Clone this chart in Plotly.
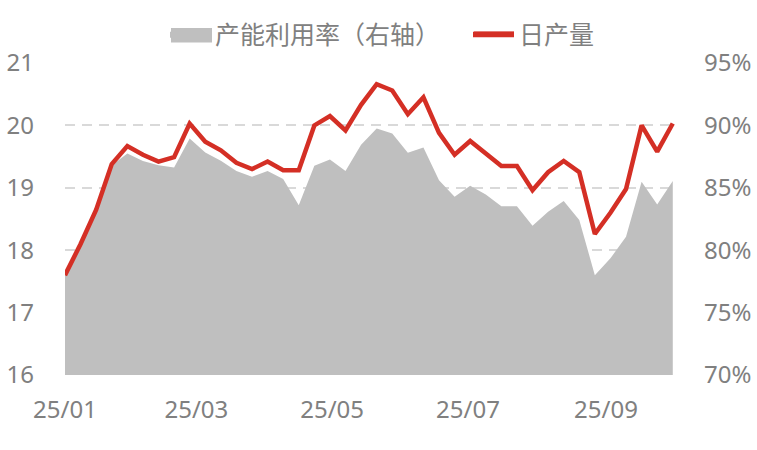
import pandas as pd
import plotly.graph_objects as go

dates = pd.date_range("2025-01-01", periods=40, freq="7D")

daily_output = [17.60, 18.10, 18.65, 19.38, 19.67, 19.53, 19.42, 19.49, 20.03, 19.74,
                19.60, 19.40, 19.30, 19.42, 19.28, 19.28, 20.00, 20.15, 19.92, 20.33,
                20.66, 20.56, 20.18, 20.45, 19.88, 19.53, 19.75, 19.55, 19.35, 19.35,
                18.96, 19.25, 19.43, 19.25, 18.26, 18.60, 18.98, 20.00, 19.58, 20.03]

utilization = [78.3, 80.4, 83.1, 86.8, 87.75, 87.14, 86.8, 86.63, 88.95, 87.83,
               87.17, 86.34, 85.88, 86.34, 85.7, 83.6, 86.76, 87.27, 86.34, 88.45,
               89.75, 89.35, 87.8, 88.23, 85.6, 84.28, 85.16, 84.47, 83.53, 83.53,
               81.96, 83.08, 83.94, 82.42, 78.0, 79.35, 81.08, 85.48, 83.66, 85.54]

left_ticks = [16, 17, 18, 19, 20, 21]
right_ticks = [70, 75, 80, 85, 90, 95]
right_labels = [f"{v}%" for v in right_ticks]

name_area = "产能利用率（右轴）"
name_line = "日产量"

font_family = "Noto Sans, Noto Sans CJK SC, sans-serif"
gray_txt = "#808080"
area_color = "#BFBFBF"
line_color = "#D42F25"
W, H = 757, 450
ML, MR, MT, MB = 65, 82, 63, 75
PW, PH = W - ML - MR, H - MT - MB


def px_x(px):
    return (px - ML) / PW


def px_y(py):
    return (H - MB - py) / PH


fig = go.Figure()
fig.add_trace(go.Scatter(
    x=dates, y=utilization, name=name_area, yaxis="y", legend="legend",
    mode="lines", fill="tozeroy", fillcolor=area_color,
    line=dict(color=area_color, width=0),
    hoverinfo="skip",
))
fig.add_trace(go.Scatter(
    x=dates, y=daily_output, name=name_line, yaxis="y2", legend="legend2",
    mode="lines", line=dict(color=line_color, width=4.5),
))

legend_common = dict(orientation="h", xanchor="left", yanchor="middle",
                     xref="container", yref="container", y=1 - 34 / H,
                     font=dict(size=25, color=gray_txt),
                     bgcolor="rgba(0,0,0,0)", itemwidth=40)

# enlarged legend swatches (as in the reference)
fig.add_shape(type="rect", xref="paper", yref="paper",
              x0=px_x(171), x1=px_x(212), y0=px_y(42.5), y1=px_y(28),
              fillcolor=area_color, line=dict(width=0), layer="above")
fig.add_shape(type="line", xref="paper", yref="paper",
              x0=px_x(473), x1=px_x(514), y0=px_y(34.5), y1=px_y(34.5),
              line=dict(color=line_color, width=5.5), layer="above")

fig.update_layout(
    width=W, height=H,
    margin=dict(l=ML, r=MR, t=MT, b=MB, autoexpand=False),
    paper_bgcolor="white", plot_bgcolor="white",
    font=dict(family=font_family, color=gray_txt, size=24),
    showlegend=True,
    legend=dict(x=165 / W, **legend_common),
    legend2=dict(x=469 / W, **legend_common),
    xaxis=dict(
        type="date", range=["2025-01-01", "2025-10-02"],
        tickformat="%y/%m", dtick="M2", tick0="2025-01-01",
        showgrid=False, showline=False, zeroline=False, ticks="",
        ticklabelstandoff=18, automargin=False,
        tickfont=dict(size=24, color=gray_txt),
    ),
    yaxis=dict(
        side="right", range=[70, 95], tickvals=right_ticks, ticktext=right_labels,
        showgrid=True, gridcolor="#D9D9D9", gridwidth=2, griddash="10px,7px",
        zeroline=False, showline=False, ticks="",
        ticklabelstandoff=28, automargin=False,
        tickfont=dict(size=24, color=gray_txt),
    ),
    yaxis2=dict(
        side="left", overlaying="y", range=[16, 21], tickvals=left_ticks,
        showgrid=False, zeroline=False, showline=False, ticks="",
        ticklabelstandoff=30, automargin=False,
        tickfont=dict(size=24, color=gray_txt),
    ),
)

fig.write_html("out.html", config={"displayModeBar": False},
               post_script="document.body.style.margin='0';")
